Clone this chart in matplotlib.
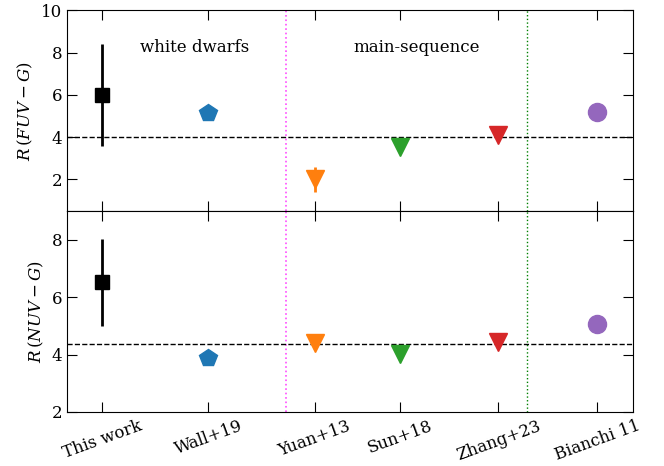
import numpy as np
import matplotlib
matplotlib.use('Agg')
import matplotlib.pyplot as plt

plt.rcParams['font.family'] = 'DejaVu Serif'
plt.rcParams['mathtext.fontset'] = 'dejavuserif'

# Data
# ------------------------------------------------------------------------------
labels = ['This work', 'Wall+19', 'Yuan+13', 'Sun+18', 'Zhang+23', 'Bianchi 11']
xpos = [0, 1, 2, 2.8, 3.73, 4.66]
markers = ['s', 'p', 'v', 'v', 'v', 'o']
colors = ['black', 'tab:blue', 'tab:orange', 'tab:green', 'tab:red', 'tab:purple']
msizes = [10, 13, 13, 13, 13, 13]

R_fuv = [6.0, 5.15, 2.0, 3.52, 4.1, 5.18]
R_fuv_err = [2.41, 0, 0.6, 0, 0, 0]
R_nuv = [6.52, 3.87, 4.4, 4.03, 4.43, 5.08]
R_nuv_err = [1.52, 0, 0, 0, 0, 0]

fuv_ref = 4.0
nuv_ref = 4.37
wd_ms_split = 1.73
ms_split = 4.0

# Plot
# ------------------------------------------------------------------------------
fig, (ax1, ax2) = plt.subplots(2, 1, figsize=(6.64, 4.66), dpi=100, sharex=True)
fig.subplots_adjust(left=0.101, right=0.954, top=0.978, bottom=0.116, hspace=0)

for ax, vals, errs in [(ax1, R_fuv, R_fuv_err), (ax2, R_nuv, R_nuv_err)]:
    for i in range(len(xpos)):
        if errs[i] > 0:
            ax.errorbar(xpos[i], vals[i], yerr=errs[i], fmt=markers[i], color=colors[i],
                        ms=msizes[i], elinewidth=2, capsize=0, zorder=3)
        else:
            ax.plot(xpos[i], vals[i], markers[i], color=colors[i], ms=msizes[i], zorder=3)
    ax.axvline(wd_ms_split, color='magenta', ls=':', lw=1.2, alpha=0.7)
    ax.axvline(ms_split, color='green', ls=':', lw=1.0)
    ax.tick_params(direction='in', top=True, right=True, length=7, labelsize=12)

ax1.axhline(fuv_ref, color='black', ls='--', lw=1)
ax2.axhline(nuv_ref, color='black', ls='--', lw=1)

ax1.set_ylim(0.5, 10)
ax1.set_yticks([2, 4, 6, 8, 10])
ax2.set_ylim(2, 9)
ax2.set_yticks([2, 4, 6, 8])
ax1.set_xlim(-0.33, 5.0)

ax1.text(0.87, 8.25, 'white dwarfs', ha='center', va='center', fontsize=12)
ax1.text(2.96, 8.25, 'main-sequence', ha='center', va='center', fontsize=12)

ax1.set_ylabel(r'$R\,(FUV-G)$', fontsize=12)
ax2.set_ylabel(r'$R\,(NUV-G)$', fontsize=12)

ax2.set_xticks(xpos)
ax2.set_xticklabels(labels, rotation=20, ha='center', fontsize=12)
ax2.tick_params(axis='x', pad=4)

plt.savefig('out.png', dpi=100)
